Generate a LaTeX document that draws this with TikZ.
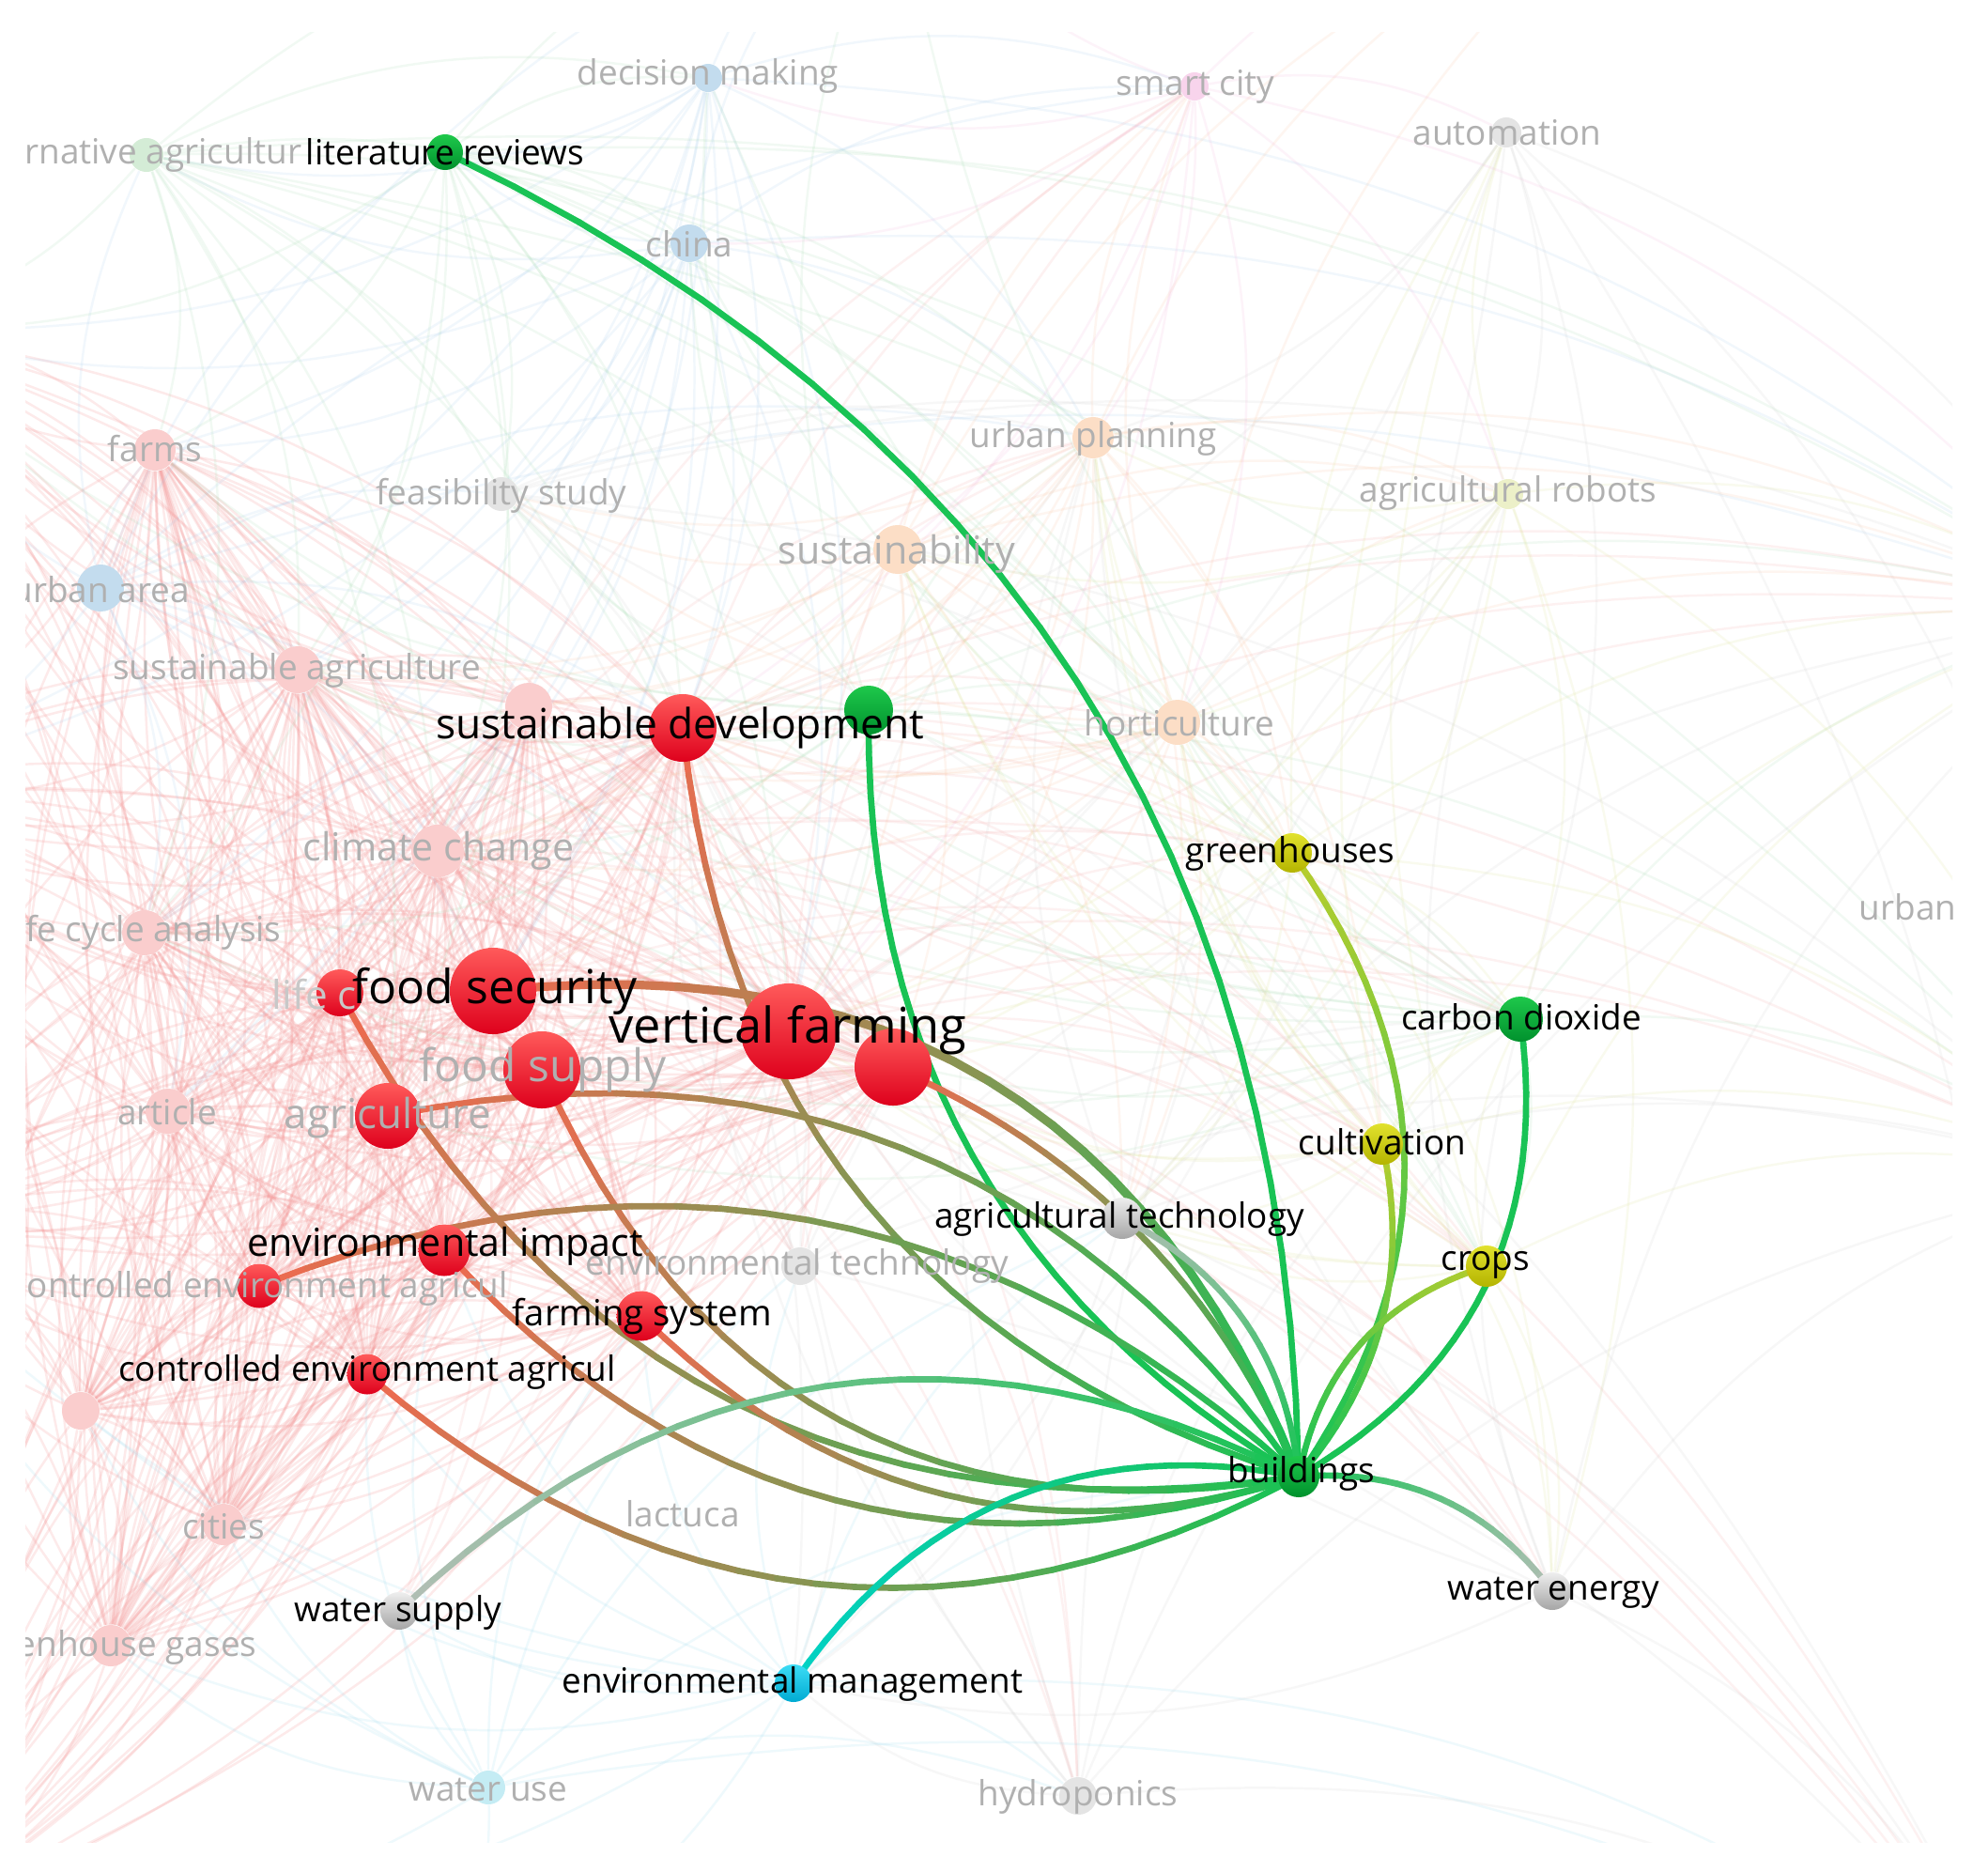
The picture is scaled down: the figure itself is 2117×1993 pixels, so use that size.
\documentclass[tikz,border=0pt]{standalone}
\usepackage{fontspec}
\setmainfont{Open Sans}
\usetikzlibrary{calc}

% node colours (top / bottom of the shading)
\definecolor{redtop}{RGB}{255,90,90}
\definecolor{redbot}{RGB}{222,0,28}
\definecolor{greentop}{RGB}{30,200,75}
\definecolor{greenbot}{RGB}{0,145,45}
\definecolor{yellowtop}{RGB}{225,225,45}
\definecolor{yellowbot}{RGB}{180,180,0}
\definecolor{graytop}{RGB}{238,238,238}
\definecolor{graybot}{RGB}{165,165,165}
\definecolor{cyantop}{RGB}{60,220,245}
\definecolor{cyanbot}{RGB}{0,170,210}
% highlighted links
\definecolor{ered}{RGB}{240,105,80}
\definecolor{egreen}{RGB}{25,195,85}
\definecolor{eyellow}{RGB}{185,205,45}
\definecolor{egray}{RGB}{180,190,182}
\definecolor{ecyan}{RGB}{0,210,200}
% faded items
\definecolor{fpink}{RGB}{250,205,205}
\definecolor{fblue}{RGB}{195,220,238}
\definecolor{fgreen}{RGB}{212,236,214}
\definecolor{forange}{RGB}{252,222,198}
\definecolor{fgray}{RGB}{228,228,228}
\definecolor{fyellow}{RGB}{236,240,200}
\definecolor{fmag}{RGB}{248,212,236}
\definecolor{fcyan}{RGB}{196,236,244}
\definecolor{fadetext}{RGB}{176,176,176}
% background links
\definecolor{lred}{RGB}{245,150,150}
\definecolor{lblue}{RGB}{150,195,235}
\definecolor{lgreen}{RGB}{150,215,165}
\definecolor{lorange}{RGB}{248,185,140}
\definecolor{lyellow}{RGB}{215,222,130}
\definecolor{lmag}{RGB}{240,165,215}
\definecolor{lgray}{RGB}{200,200,200}
\definecolor{lcyan}{RGB}{130,210,235}

\pgfdeclarelayer{haze}
\pgfdeclarelayer{links}
\pgfsetlayers{haze,links,main}

% curved link from #2 to #3, bend #4, colour #5 fading into #6
\newcommand{\glink}[6][]{%
  \coordinate (ctl) at ($(#2)!0.5!(#3)!#4!90:(#3)$);
  \foreach \i [evaluate=\i as \ta using (\i-1)/24,
               evaluate=\i as \tb using \i/24,
               evaluate=\i as \pc using int(100-(\i-0.5)*100/24)] in {1,...,24}
    \draw[link, #5!\pc!#6, #1]
      ($($(#2)!\ta!(ctl)$)!\ta!($(ctl)!\ta!(#3)$)$)
      -- ($($(#2)!\tb!(ctl)$)!\tb!($(ctl)!\tb!(#3)$)$);
}

\begin{document}
\begin{tikzpicture}
  [
    x=0.01cm, y=-0.01cm,
    bubble/.style={circle, inner sep=0pt, minimum size=#1},
    redball/.style={top color=redtop, bottom color=redbot},
    greenball/.style={top color=greentop, bottom color=greenbot},
    yellowball/.style={top color=yellowtop, bottom color=yellowbot},
    grayball/.style={top color=graytop, bottom color=graybot},
    cyanball/.style={top color=cyantop, bottom color=cyanbot},
    lab/.style={font=\fontsize{#1}{#1}\selectfont, inner sep=0pt, text=black},
    lab/.default=10.5,
    ghost/.style={lab=#1, text=fadetext},
    ghost/.default=10.5,
    link/.style={line width=1.9pt, line cap=round},
    faint/.style={line width=0.7pt, opacity=0.2, bend left=18},
    fainter/.style={faint, opacity=0.13}
  ]
  \useasboundingbox (0,0) rectangle (2117,1993);

  \begin{scope}
    \clip (27,34) rectangle (2079,1961);

    % faded nodes
    \node[bubble=0.36cm, fill=fgreen] (altagri) at (156,165) {};
    \node[bubble=0.30cm, fill=fblue] (dmaking) at (754,83) {};
    \node[bubble=0.40cm, fill=fblue] (china) at (734,259) {};
    \node[bubble=0.30cm, fill=fmag] (smart) at (1272,92) {};
    \node[bubble=0.32cm, fill=fgray] (autom) at (1604,141) {};
    \node[bubble=0.44cm, fill=fpink] (farms) at (165,479) {};
    \node[bubble=0.36cm, fill=fgray] (feas) at (534,526) {};
    \node[bubble=0.44cm, fill=forange] (uplan) at (1164,466) {};
    \node[bubble=0.32cm, fill=fyellow] (arob) at (1606,526) {};
    \node[bubble=0.52cm, fill=forange] (sustain) at (956,585) {};
    \node[bubble=0.50cm, fill=fblue] (uarea) at (107,626) {};
    \node[bubble=0.50cm, fill=fpink] (sagri) at (317,713) {};
    \node[bubble=0.50cm, fill=fpink] (pdot1) at (563,752) {};
    \node[bubble=0.48cm, fill=forange] (horti) at (1254,769) {};
    \node[bubble=0.56cm, fill=fpink] (clim) at (466,906) {};
    \node[bubble=0.48cm, fill=fpink] (lcan) at (154,993) {};
    \node[bubble=0.48cm, fill=fpink] (article) at (179,1183) {};
    \node[bubble=0.40cm, fill=fgray] (envtech) at (852,1348) {};
    \node[bubble=0.40cm, fill=fpink] (pdot2) at (86,1502) {};
    \node[bubble=0.44cm, fill=fpink] (cities) at (238,1623) {};
    \node[bubble=0.44cm, fill=fpink] (ghg) at (118,1752) {};
    \node[bubble=0.36cm, fill=fcyan] (wuse) at (520,1903) {};
    \node[bubble=0.40cm, fill=fgray] (hydro) at (1148,1912) {};

    % highlighted nodes
    \node[bubble=0.38cm, greenball] (litrev) at (474,162) {};
    \node[bubble=0.52cm, greenball] (gdot) at (925,756) {};
    \node[bubble=0.72cm, redball] (sdev) at (727,775) {};
    \node[bubble=0.92cm, redball] (fsec) at (525,1055) {};
    \node[bubble=0.50cm, redball] (lca) at (362,1057) {};
    \node[bubble=0.82cm, redball] (fsup) at (577,1139) {};
    \node[bubble=0.70cm, redball] (agri) at (413,1188) {};
    \node[bubble=1.02cm, redball] (vf) at (840,1098) {};
    \node[bubble=0.82cm, redball] (rdot) at (951,1136) {};
    \node[bubble=0.55cm, redball] (envimp) at (473,1331) {};
    \node[bubble=0.47cm, redball] (cea2) at (276,1369) {};
    \node[bubble=0.53cm, redball] (farmsys) at (683,1401) {};
    \node[bubble=0.43cm, redball] (cea) at (391,1463) {};
    \node[bubble=0.42cm, yellowball] (greenh) at (1376,908) {};
    \node[bubble=0.48cm, greenball] (co2) at (1619,1085) {};
    \node[bubble=0.44cm, yellowball] (cultiv) at (1472,1218) {};
    \node[bubble=0.44cm, yellowball] (crops) at (1583,1348) {};
    \node[bubble=0.44cm, grayball] (agtech) at (1195,1297) {};
    \node[bubble=0.44cm, greenball] (build) at (1383,1572) {};
    \node[bubble=0.40cm, grayball] (wsup) at (425,1715) {};
    \node[bubble=0.40cm, grayball] (wener) at (1653,1694) {};
    \node[bubble=0.40cm, cyanball] (envman) at (845,1792) {};

    % end points of links that leave the frame
    \coordinate (offa) at (-150,350);
    \coordinate (offb) at (-200,850);
    \coordinate (offc) at (-150,1300);
    \coordinate (offd) at (-100,2050);
    \coordinate (offe) at (450,2150);
    \coordinate (offf) at (2250,650);
    \coordinate (offg) at (2250,1250);
    \coordinate (offh) at (950,-150);
    \coordinate (offi) at (2150,2150);
    \coordinate (offj) at (1750,-150);

    % faded labels
    \node[ghost, anchor=east] (altagri-l) at (322,165) {alternative agricultur};
    \node[ghost] (dmaking-l) at (754,81) {decision making};
    \node[ghost] (smart-l) at (1273,92) {smart city};
    \node[ghost] (autom-l) at (1605,141) {automation};
    \node[ghost] (china-l) at (734,260) {china};
    \node[ghost] (farms-l) at (165,478) {farms};
    \node[ghost] (uplan-l) at (1164,467) {urban planning};
    \node[ghost] (feas-l) at (534,528) {feasibility study};
    \node[ghost] (arob-l) at (1606,525) {agricultural robots};
    \node[ghost=11.7] (sustain-l) at (955,590) {sustainability};
    \node[ghost] (uarea-l) at (107,628) {urban area};
    \node[ghost] (sagri-l) at (316,714) {sustainable agriculture};
    \node[ghost] (horti-l) at (1256,770) {horticulture};
    \node[ghost=11.7] (clim-l) at (467,906) {climate change};
    \node[ghost] (lcan-l) at (154,993) {life cycle analysis};
    \node[ghost=12, anchor=west, text=fadetext!70] (lca-l) at (289,1059) {life c};
    \node[ghost=13.6] (fsup-l) at (578,1139) {food supply};
    \node[ghost=12.5] (agri-l) at (413,1190) {agriculture};
    \node[ghost] (article-l) at (178,1184) {article};
    \node[ghost] (envtech-l) at (849,1348) {environmental technology};
    \node[ghost] (cea2-l) at (276,1372) {controlled environment agricul};
    \node[ghost] (cities-l) at (238,1625) {cities};
    \node[ghost] (lactuca-l) at (727,1612) {lactuca};
    \node[ghost] (ghg-l) at (118,1754) {greenhouse gases};
    \node[ghost] (wuse-l) at (520,1905) {water use};
    \node[ghost] (hydro-l) at (1148,1913) {hydroponics};
    \node[ghost, anchor=west] (urban-l) at (1979,966) {urban};

    % labels of the highlighted nodes
    \node[lab] (litrev-l) at (474,162) {literature reviews};
    \node[lab=12.6] (sdev-l) at (724,775) {sustainable development};
    \node[lab=14.2] (fsec-l) at (527,1055) {food security};
    \node[lab=14.9] (vf-l) at (839,1097) {vertical farming};
    \node[lab=11.7] (envimp-l) at (474,1327) {environmental impact};
    \node[lab=10.9] (farmsys-l) at (684,1401) {farming system};
    \node[lab] (cea-l) at (391,1461) {controlled environment agricul};
    \node[lab] (greenh-l) at (1374,909) {greenhouses};
    \node[lab] (co2-l) at (1620,1083) {carbon dioxide};
    \node[lab] (cultiv-l) at (1472,1216) {cultivation};
    \node[lab] (crops-l) at (1582,1347) {crops};
    \node[lab] (agtech-l) at (1192,1298) {agricultural technology};
    \node[lab] (build-l) at (1386,1569) {buildings};
    \node[lab] (wsup-l) at (424,1717) {water supply};
    \node[lab] (wener-l) at (1654,1696) {water energy};
    \node[lab] (envman-l) at (844,1793) {environmental management};
  \end{scope}

  % faint network behind
  \begin{pgfonlayer}{haze}
    \fill[white] (0,0) rectangle (2117,1993);
    \clip (27,34) rectangle (2079,1961);
    \foreach \a in {sdev,vf,fsec,fsup,agri,rdot,lca,envimp,cea2,farmsys,cea,farms,sagri,pdot1,clim,lcan,article,pdot2,cities,ghg,offa,offb,offc,offd}{
      \foreach \b in {sdev,vf,fsec,fsup,agri,rdot,lca,envimp,cea2,farmsys,cea,farms,sagri,pdot1,clim,lcan,article,pdot2,cities,ghg,offa,offb,offc,offd}{
        \ifx\a\b\else \draw[faint, lred] (\a) to (\b); \fi
      }
    }
    \foreach \a in {vf,sdev,fsec,clim}{
      \foreach \b in {horti,greenh,co2,cultiv,crops,offf,offg,wener,hydro,offi,smart,uplan,envtech,wsup}{
        \draw[fainter, lred] (\a) to (\b);
      }
    }
    \foreach \a in {china,dmaking,uarea}{
      \foreach \b in {litrev,altagri,farms,feas,sagri,sdev,fsec,vf,clim,lcan,uplan,smart,offh,offa,offf,article,offb}{
        \draw[fainter, lblue] (\a) to (\b);
      }
    }
    \foreach \a in {altagri,litrev,gdot,co2}{
      \foreach \b in {farms,feas,china,dmaking,sdev,vf,clim,sagri,uplan,horti,greenh,offf,offg,crops,agri,lcan,offh,offa}{
        \draw[fainter, lgreen] (\a) to (\b);
      }
    }
    \foreach \a in {uplan,sustain,horti}{
      \foreach \b in {sdev,vf,fsec,clim,rdot,gdot,greenh,arob,smart,feas,offf,cultiv,agtech,pdot1,sagri,offj}{
        \draw[fainter, lorange] (\a) to (\b);
      }
    }
    \foreach \a in {arob,greenh,cultiv,crops}{
      \foreach \b in {autom,uplan,sustain,horti,vf,co2,agtech,offf,offg,wener,rdot}{
        \draw[fainter, lyellow] (\a) to (\b);
      }
    }
    \foreach \b in {uplan,sustain,china,dmaking,offh,offj,horti,arob,autom,offf,vf,sdev}{
      \draw[fainter, lmag] (smart) to (\b);
    }
    \foreach \a in {autom,feas,agtech,envtech,hydro,wener}{
      \foreach \b in {arob,uplan,vf,sdev,co2,offf,offg,offi,envman}{
        \draw[fainter, lgray] (\a) to (\b);
      }
    }
    \foreach \a in {wuse,envman}{
      \foreach \b in {cities,ghg,pdot2,cea,envimp,farmsys,wsup,hydro,offd,offe,offc,agtech,build,envtech,offi}{
        \draw[fainter, lcyan] (\a) to (\b);
      }
    }
  \end{pgfonlayer}

  % links of buildings
  \begin{pgfonlayer}{links}
    \glink{litrev}{build}{0.62}{egreen}{egreen}
    \glink{gdot}{build}{-0.58}{egreen}{egreen}
    \glink{sdev}{build}{-0.66}{ered}{egreen}
    \glink[line width=2.6pt]{fsec}{build}{0.76}{ered}{egreen}
    \glink{rdot}{build}{0.4}{ered}{egreen}
    \glink{agri}{build}{0.65}{ered}{egreen}
    \glink{lca}{build}{-0.7}{ered}{egreen}
    \glink{fsup}{build}{-0.78}{ered}{egreen}
    \glink{cea2}{build}{0.62}{ered}{egreen}
    \glink{envimp}{build}{-0.64}{ered}{egreen}
    \glink{farmsys}{build}{-0.6}{ered}{egreen}
    \glink{cea}{build}{-0.68}{ered}{egreen}
    \glink{wsup}{build}{0.7}{egray}{egreen}
    \glink{envman}{build}{0.65}{ecyan}{egreen}
    \glink{wener}{build}{-0.55}{egray}{egreen}
    \glink{greenh}{build}{0.7}{eyellow}{egreen}
    \glink{cultiv}{build}{0.5}{eyellow}{egreen}
    \glink{co2}{build}{0.67}{egreen}{egreen}
    \glink{crops}{build}{-0.6}{eyellow}{egreen}
    \glink{agtech}{build}{0.55}{egray}{egreen}
  \end{pgfonlayer}
\end{tikzpicture}
\end{document}
